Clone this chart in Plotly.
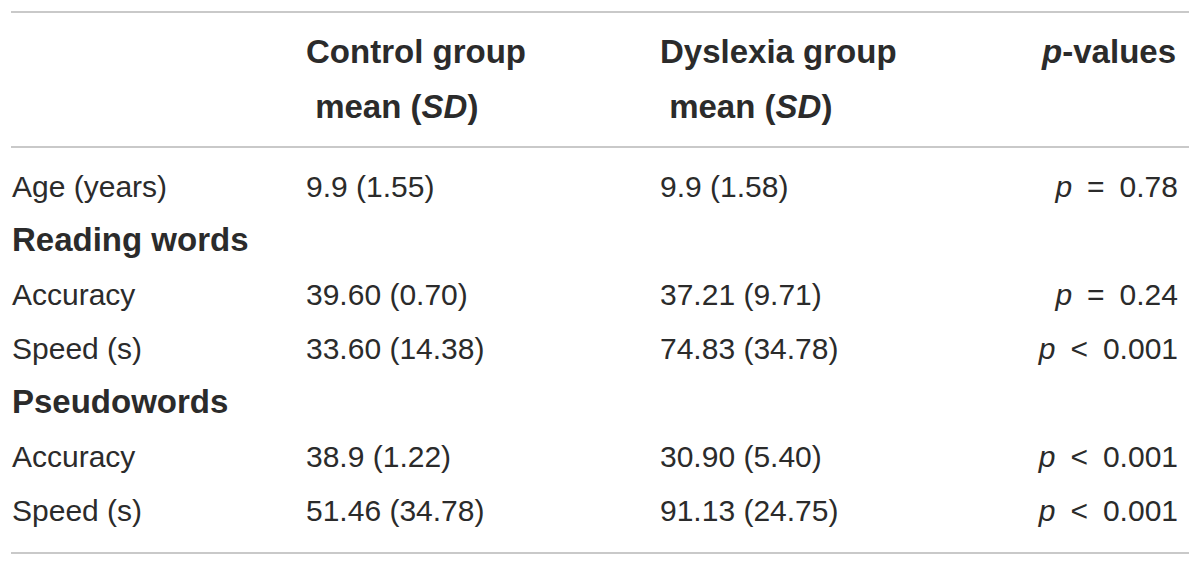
import plotly.graph_objects as go

# table content
row_labels = ['Age (years)', '<b>Reading words</b>', 'Accuracy', 'Speed (s)',
              '<b>Pseudowords</b>', 'Accuracy', 'Speed (s)']
control_vals = ['9.9 (1.55)', '', '39.60 (0.70)', '33.60 (14.38)', '', '38.9 (1.22)', '51.46 (34.78)']
dyslexia_vals = ['9.9 (1.58)', '', '37.21 (9.71)', '74.83 (34.78)', '', '30.90 (5.40)', '91.13 (24.75)']
p_vals = ['<i>p</i>\u2002=\u20020.78', '', '<i>p</i>\u2002=\u20020.24', '<i>p</i>\u2002<\u20020.001', '',
          '<i>p</i>\u2002<\u20020.001', '<i>p</i>\u2002<\u20020.001']

header_line1 = ['<b>Control group</b>', '<b>Dyslexia group</b>', '<b><i>p</i>-values</b>']
header_line2 = ['<b> mean (<i>SD</i>)</b>', '<b> mean (<i>SD</i>)</b>', '']

W, H = 1200, 566
FONT = 'Liberation Sans, Arial, sans-serif'
TXT = '#2b2b2b'
RULE = '#c9c9c9'

row_y = [189 + 54 * i for i in range(len(row_labels))]
hdr_y = [55, 110]

fig = go.Figure()

def col_trace(xpos, texts, ys, pos):
    sizes = [33 if t.startswith('<b>') else 30 for t in texts]
    fig.add_trace(go.Scatter(
        x=[xpos] * len(texts), y=ys, text=texts, mode='text',
        textposition=pos, hoverinfo='skip',
        textfont=dict(family=FONT, size=sizes, color=TXT),
    ))

# body columns
col_trace(12, row_labels, row_y, 'middle right')
col_trace(306, control_vals, row_y, 'middle right')
col_trace(660, dyslexia_vals, row_y, 'middle right')
col_trace(1178, p_vals, row_y, 'middle left')

# header
col_trace(306, [header_line1[0], header_line2[0]], hdr_y, 'middle right')
col_trace(660, [header_line1[1], header_line2[1]], hdr_y, 'middle right')
col_trace(1176, [header_line1[2], header_line2[2]], hdr_y, 'middle left')

# horizontal rules
for y0 in [12, 147, 553]:
    fig.add_shape(type='line', x0=11, x1=1189, y0=y0, y1=y0, xref='x', yref='y',
                  line=dict(color=RULE, width=2))

fig.update_layout(
    width=W, height=H,
    margin=dict(l=0, r=0, t=0, b=0),
    paper_bgcolor='white', plot_bgcolor='white',
    showlegend=False,
    xaxis=dict(range=[0, W], visible=False, fixedrange=True),
    yaxis=dict(range=[H, 0], visible=False, fixedrange=True),
)

fig.write_html('out.html', config={'displayModeBar': False},
               post_script="document.body.style.margin='0';")
